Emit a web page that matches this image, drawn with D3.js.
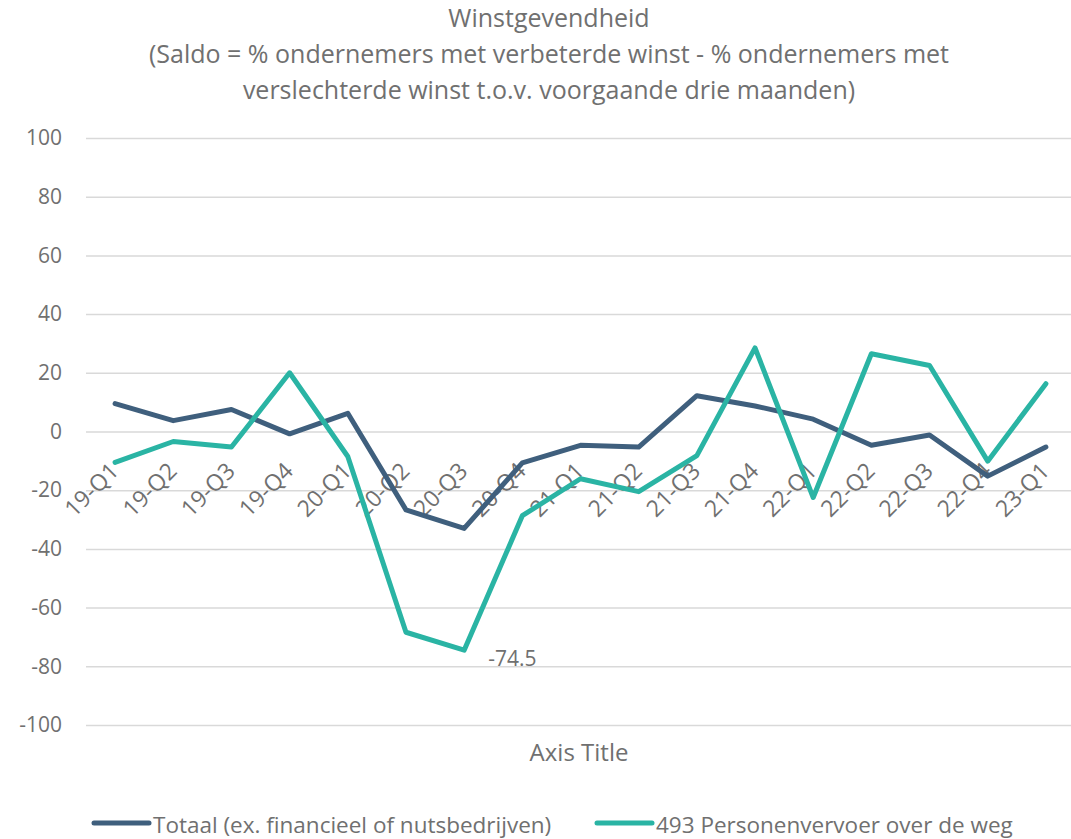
<!DOCTYPE html>
<html>
<head>
<meta charset="utf-8">
<script src="https://cdn.jsdelivr.net/npm/d3@7"></script>
<style>
  body { margin: 0; background: #fff; }
  svg text { font-family: "Open Sans", "Noto Sans", sans-serif; fill: #707070; }
</style>
</head>
<body>
<svg id="chart" width="1071" height="839"></svg>
<script>
const categories = ["19-Q1","19-Q2","19-Q3","19-Q4","20-Q1","20-Q2","20-Q3","20-Q4",
    "21-Q1","21-Q2","21-Q3","21-Q4","22-Q1","22-Q2","22-Q3","22-Q4","23-Q1"];
const totaal = [9.5, 3.7, 7.5, -0.8, 6.2, -26.7, -33, -10.7,
    -4.7, -5.3, 12.2, 8.7, 4.2, -4.7, -1.2, -15.2, -5.3];
const personen = [-10.5, -3.4, -5.3, 20, -8.5, -68.4, -74.5, -28.7,
    -16.1, -20.5, -8.2, 28.5, -22.5, 26.5, 22.5, -10.1, 16.3];
const yTicks = [100, 80, 60, 40, 20, 0, -20, -40, -60, -80, -100];
const titleLines = ["Winstgevendheid",
    "(Saldo = % ondernemers met verbeterde winst - % ondernemers met",
    "verslechterde winst t.o.v. voorgaande drie maanden)"];
const seriesNames = ["Totaal (ex. financieel of nutsbedrijven)", "493 Personenvervoer over de weg"];
const colors = ["#3f5f7d", "#2ab4a4"];

const svg = d3.select('#chart');
const plot = { left: 86, right: 1075, top: 138, bottom: 725 };

const xScale = d3.scalePoint()
    .domain(categories)
    .range([plot.left, plot.right])
    .padding(0.5);

const yScale = d3.scaleLinear()
    .domain([-100, 100])
    .range([plot.bottom, plot.top]);

// title
svg.append('g')
    .selectAll('text')
    .data(titleLines)
    .enter()
    .append('text')
    .attr('x', 549)
    .attr('y', (d, i) => 27 + i * 36)
    .attr('text-anchor', 'middle')
    .style('font-size', '25px')
    .text(d => d);

// grid + y labels
const yAxis = svg.append('g')
    .attr('transform', `translate(${plot.left}, 0)`)
    .call(d3.axisLeft(yScale)
        .tickValues(yTicks)
        .tickFormat(d => String(d))
        .tickSize(-(plot.right - plot.left))
        .tickPadding(24)
    );
yAxis.select('.domain').remove();
yAxis.selectAll('.tick line').attr('stroke', '#d9d9d9').attr('stroke-width', 1.5);
yAxis.selectAll('.tick text')
    .style('font-size', '21px')
    .attr('fill', '#6b6b6b');

// x labels, next to the axis crossing at 0
svg.append('g')
    .selectAll('text')
    .data(categories)
    .enter()
    .append('text')
    .attr('transform', d => `translate(${xScale(d) + 5}, ${yScale(0) + 41}) rotate(-45)`)
    .attr('text-anchor', 'end')
    .style('font-size', '23px')
    .text(d => d);

// lines
const line = d3.line()
    .x((d, i) => xScale(categories[i]))
    .y(d => yScale(d));

[totaal, personen].forEach(function(series, k){
    svg.append('path')
        .datum(series)
        .attr('fill', 'none')
        .attr('stroke', colors[k])
        .attr('stroke-width', 5)
        .attr('stroke-linejoin', 'round')
        .attr('stroke-linecap', 'round')
        .attr('d', line);
});

// data label on minimum
const minIdx = personen.indexOf(d3.min(personen));
svg.append('text')
    .attr('x', xScale(categories[minIdx]) + 24)
    .attr('y', yScale(personen[minIdx]) + 16)
    .style('font-size', '21px')
    .attr('fill', '#595959')
    .text(String(personen[minIdx]));

// axis title
svg.append('text')
    .attr('x', 579)
    .attr('y', 761)
    .attr('text-anchor', 'middle')
    .style('font-size', '24px')
    .text('Axis Title');

// legend
const legendX = [94, 597];
const legend = svg.append('g');
seriesNames.forEach(function(name, k){
    legend.append('line')
        .attr('x1', legendX[k]).attr('x2', legendX[k] + 55)
        .attr('y1', 823).attr('y2', 823)
        .attr('stroke', colors[k])
        .attr('stroke-width', 5)
        .attr('stroke-linecap', 'round');
    legend.append('text')
        .attr('x', legendX[k] + 59)
        .attr('y', 833)
        .style('font-size', '22.5px')
        .text(name);
});
</script>
</body>
</html>
